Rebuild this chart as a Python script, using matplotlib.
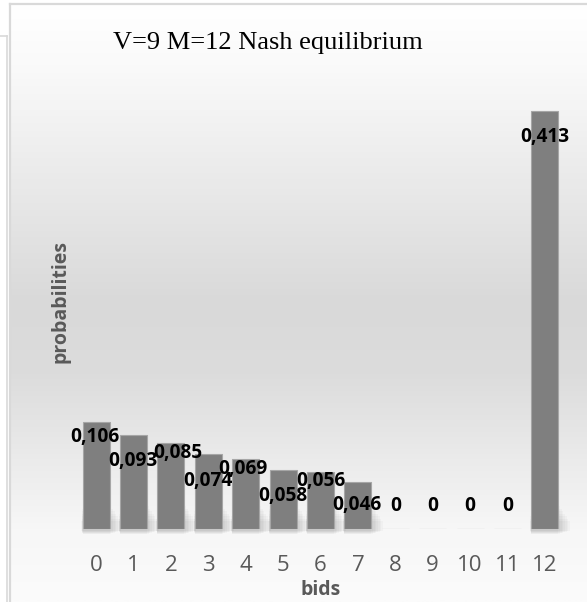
import numpy as np
import matplotlib
matplotlib.use("Agg")
import matplotlib.pyplot as plt
from matplotlib.colors import LinearSegmentedColormap

# ---- data ----
bids = [0, 1, 2, 3, 4, 5, 6, 7, 8, 9, 10, 11, 12]
probabilities = [0.106, 0.093, 0.085, 0.074, 0.069, 0.058, 0.056, 0.046, 0, 0, 0, 0, 0.413]
title = "V=9 M=12 Nash equilibrium"
xlabel = "bids"
ylabel = "probabilities"

# label placement (pixels) chosen to mimic Excel's auto layout
label_dx = [-1, -1, 7, 0, -3, 0, 0, -1, 0, 0, 0, 0, 0]
label_dy = [-15, -26, -10, -27, -10, -26, -9, -23, 23, 23, 23, 23, -26]

W, H = 587, 602
fig = plt.figure(figsize=(W / 100, H / 100), dpi=100)
fig.patch.set_facecolor("white")

# ---- background (chart area gradient + frames) ----
bg = fig.add_axes([0, 0, 1, 1], zorder=0)
bg.set_xlim(0, W)
bg.set_ylim(H, 0)
bg.axis("off")
cmap = LinearSegmentedColormap.from_list(
    "g", [(0, "#ffffff"), (0.1, "#fafafa"), (0.5, "#d9d9d9"), (0.62, "#dcdcdc"),
          (0.88, "#f7f7f7"), (1.0, "#fbfbfb")])
grad = np.linspace(0, 1, 400).reshape(-1, 1)
bg.imshow(grad, cmap=cmap, aspect="auto", extent=[10, W, H, 4], zorder=0)
bg.plot([9.5, 9.5], [3.5, H], color="#d9d9d9", lw=1.6, zorder=1)
bg.plot([9.5, W], [3.5, 3.5], color="#d9d9d9", lw=1.6, zorder=1)
bg.plot([0, 7], [35.5, 35.5], color="#d9d9d9", lw=1.2, zorder=1)
bg.plot([7, 7], [35.5, H], color="#d9d9d9", lw=1.2, zorder=1)

# ---- main axes ----
ax = fig.add_axes([70 / W, (H - 529) / H, 501 / W, 455 / H], zorder=2)
ax.patch.set_alpha(0)
ax.set_xlim(-0.7, 12.7)
ax.set_ylim(0, 0.45)

width = 0.72
# soft shadow at the foot of each bar
for k in range(8):
    for b, p in zip(bids, probabilities):
        if p > 0:
            ax.bar(b + 0.02 * k, 0.03 - 0.003 * k, bottom=-0.005 + 0.0005 * k,
                   width=width + 0.05 * k, color="black", alpha=0.025,
                   lw=0, zorder=1, clip_on=False)

ax.bar(bids, probabilities, width=width, color="#7f7f7f", edgecolor="#a6a6a6",
       linewidth=0.8, zorder=3)

for b, p, dx, dy in zip(bids, probabilities, label_dx, label_dy):
    txt = "0" if p == 0 else f"{p:.3f}".replace(".", ",")
    ax.annotate(txt, (b, p), xytext=(dx, dy), textcoords="offset pixels",
                ha="center", va="center", fontsize=13.8, fontweight="bold",
                family="Open Sans", color="black", zorder=5)

for s in ax.spines.values():
    s.set_visible(False)
ax.set_yticks([])
ax.set_xticks(bids)
ax.set_xticklabels([str(b) for b in bids], family="Open Sans", fontsize=16, color="#595959")
ax.tick_params(axis="x", length=0, pad=19)

ax.set_xlabel(xlabel, family="Open Sans", fontweight="bold", fontsize=14, color="#595959")
ax.xaxis.set_label_coords(0.5, (529 - 590) / 455)
ax.xaxis.label.set_va("center")
ax.set_ylabel(ylabel, family="Open Sans", fontweight="bold", fontsize=14, color="#595959")
ax.yaxis.set_label_coords((60 - 70) / 501, 0.5)
ax.yaxis.label.set_va("center")

fig.text(268 / W, 1 - 43 / H, title, family="Liberation Serif", fontsize=19,
         ha="center", va="center", color="black")

fig.savefig("out.png", dpi=100)
